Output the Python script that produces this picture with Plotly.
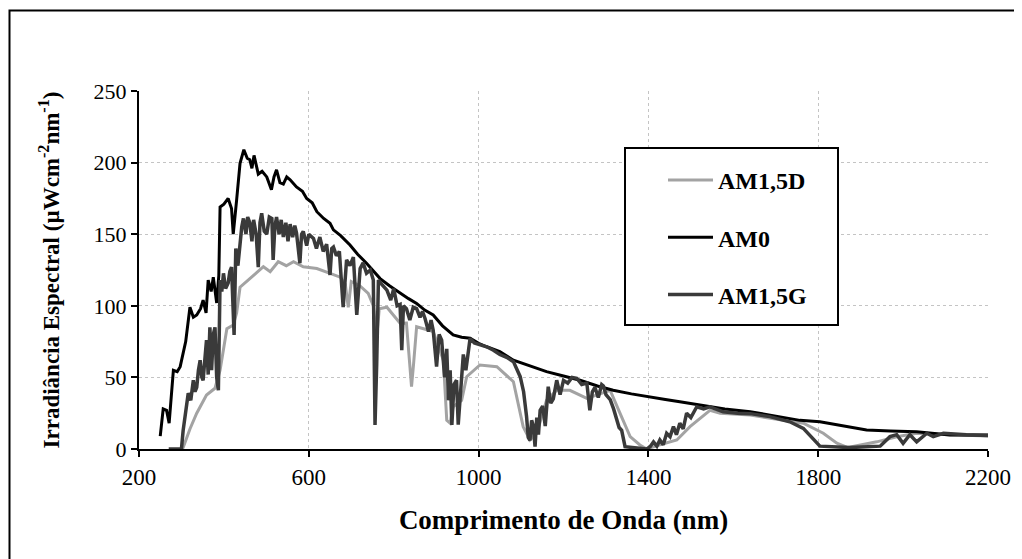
import plotly.graph_objects as go

# ---------------- data ----------------
am0_wl = [250, 257, 265, 271, 281, 290, 297, 310, 320, 328, 336, 345, 351, 358, 363, 370, 375, 383, 388, 391,
          400, 410, 418, 422, 430, 438, 447, 455, 461, 466, 471, 481, 490, 501, 512, 518, 524, 532, 540, 548,
          556, 571, 585, 595, 608, 619, 635, 650, 658, 675, 697, 715, 736, 750, 768, 790, 815, 835, 854, 873,
          893, 915, 940, 960, 980, 1000, 1019, 1050, 1082, 1120, 1160, 1200, 1239, 1280, 1317, 1360, 1396, 1440,
          1474, 1522, 1580, 1640, 1700, 1757, 1804, 1860, 1914, 1970, 2032, 2110, 2200]
am0_val = [9, 28, 27, 18, 55, 54, 57.5, 75, 99, 92, 93.6, 98, 104, 95, 118, 110, 120, 102, 121, 169,
           171, 175, 168, 150, 174, 199.5, 209, 203, 202, 196, 205, 192, 194, 190, 181, 190, 195, 186, 185, 190,
           188, 183, 180, 175, 172, 165.7, 161, 157.6, 153, 149, 142.5, 136, 129.7, 125, 119, 114, 108.7, 105, 101.7, 97,
           93.6, 86, 79.6, 78, 77.3, 73.8, 71.4, 68, 62, 58, 54, 51, 48, 44, 41, 38.5, 36.5, 34.5,
           33, 30.7, 28, 26, 23, 20, 19, 16, 13.3, 12.5, 12, 9.8, 9.8]

am15d_wl = [300, 304, 320, 336, 359, 379, 391, 400, 407, 422, 430, 438, 461, 477, 493, 509, 528, 547, 564,
            587, 619, 650, 674, 686, 693, 700, 720, 740, 752, 760, 766, 784, 815, 830, 838, 842, 847, 854,
            893, 917, 925, 933, 940, 960, 972, 1003, 1043, 1082, 1105, 1121, 1137, 1160, 1184, 1215, 1255,
            1278, 1310, 1333, 1357, 1380, 1396, 1427, 1467, 1498, 1545, 1569, 1640, 1718, 1765, 1812, 1844,
            1870, 1938, 1985, 2032, 2110, 2200]
am15d_val = [0, 1, 14, 25, 37.7, 42.4, 55, 70, 84, 86.6, 95, 113, 119, 122.7, 127.3, 123.8, 130.8, 128, 130.8,
             127.3, 126, 122.7, 120, 115, 99, 117, 114, 108.7, 100, 78, 98, 99, 87.8, 88, 60, 43.5, 60, 85.4,
             82, 62, 20, 18, 29.5, 34, 50.5, 58.7, 57.5, 47, 15.6, 6.3, 11, 34, 41, 41, 35.4,
             37.7, 41, 25, 8.6, 2.8, 0, 3, 6.3, 15.6, 27, 25, 23.7, 20, 18, 11, 4,
             1, 5, 8.6, 11, 10, 9]

am15g_wl = [270, 300, 304, 310, 316, 322, 328, 332, 336, 340, 344, 348, 351, 355, 359, 363, 367, 371, 375, 379,
            383, 387, 391, 395, 399, 404, 410, 414, 418, 424, 428, 433, 438, 442, 446, 452, 456, 461, 466, 470,
            476, 481, 485, 489, 495, 501, 507, 513, 516, 520, 524, 530, 535, 540, 546, 551, 556, 562, 567, 571,
            579, 583, 587, 595, 600, 611, 618, 626, 634, 642, 650, 654, 658, 665, 672, 681, 689, 697, 705, 713,
            721, 728, 736, 745, 752, 756, 760, 764, 772, 784, 793, 800, 808, 815, 819, 823, 830, 838, 846, 854,
            862, 868, 874, 882, 888, 893, 901, 907, 913, 920, 925, 929, 933, 937, 942, 948, 952, 958, 964, 970,
            980, 990, 1000, 1019, 1035, 1050, 1066, 1082, 1098, 1106, 1113, 1117, 1121, 1125, 1129, 1133, 1137,
            1141, 1145, 1151, 1157, 1164, 1170, 1176, 1184, 1192, 1200, 1210, 1220, 1231, 1243, 1255, 1262, 1268,
            1274, 1282, 1290, 1294, 1300, 1310, 1318, 1325, 1331, 1337, 1345, 1396, 1404, 1412, 1420, 1427, 1435,
            1443, 1451, 1459, 1466, 1474, 1482, 1490, 1500, 1514, 1530, 1545, 1576, 1610, 1640, 1686, 1733, 1765,
            1788, 1804, 1874, 1946, 1969, 1985, 2000, 2016, 2032, 2056, 2071, 2095, 2149, 2200]
am15g_val = [0, 0, 13, 25, 39, 34, 48, 40, 43, 55, 62, 50, 48, 62, 76, 52, 85, 55, 80, 85,
             50, 41, 118, 110, 122.7, 112, 116, 124, 127, 79.6, 140, 128, 146, 155, 161, 150, 162, 158, 145, 160,
             150, 127, 158, 164.6, 152, 150, 162, 161, 132, 155, 162, 150, 160, 148, 158, 145, 157, 148, 156, 151,
             129.7, 150, 152, 142, 150, 147, 140, 148, 138, 143, 121.5, 140, 141, 135, 138, 99, 132, 128, 134, 93.6,
             126, 130, 122.7, 125, 118, 16.8, 60, 118, 115, 111, 104, 112, 100, 101, 69, 100, 98, 90, 99, 98,
             92, 96, 91, 82, 90, 83, 57.5, 80, 76, 50, 70, 34, 55, 16.8, 45, 48, 17, 40, 66, 55,
             77.3, 74, 73, 71.4, 69, 66, 64, 61, 50.5, 40, 22.6, 8, 6, 20, 16, 1.6, 22,
             10, 27, 30, 16, 43.5, 32, 35, 48, 38, 48, 46, 50, 49.4, 45, 46, 27, 40,
             43, 36, 45, 44, 38, 34.5, 28, 21, 15, 13, 1.6, 0, 1.6, 5, 2, 6.3, 3,
             11, 8.6, 15.6, 10, 18, 14, 25, 22, 29.5, 28, 29.5, 26, 25, 24.7, 22.6, 19, 14.4,
             7.4, 2, 1, 2, 8.6, 10, 4, 10, 5, 11, 8.6, 11, 10, 9.4]

series_names = ["AM1,5D", "AM0", "AM1,5G"]
x_ticks = [200, 600, 1000, 1400, 1800, 2200]
y_ticks = [0, 50, 100, 150, 200, 250]

# ---------------- figure ----------------
FONT = "Times New Roman, Liberation Serif, serif"
fig = go.Figure()
fig.add_trace(go.Scatter(x=am15d_wl, y=am15d_val, mode="lines", name=series_names[0],
                         line=dict(color="#a3a3a3", width=3), legendgroup="d"))
fig.add_trace(go.Scatter(x=am0_wl, y=am0_val, mode="lines", name=series_names[1],
                         line=dict(color="#000000", width=3), legendgroup="0"))
fig.add_trace(go.Scatter(x=am15g_wl, y=am15g_val, mode="lines", name=series_names[2],
                         line=dict(color="#3a3a3a", width=3.5), legendgroup="g"))

OFF = 8  # page offset of the figure in the screenshot
L, R, T, B = 131, 42, 83, 118
W, H = 1022, 559
pw, ph = W - L - R, H - T - B

def px_x(px):  # screen px -> paper
    return (px - OFF - L) / pw

def px_y(py):
    return (H - B - (py - OFF)) / ph

fig.update_layout(
    width=W, height=H,
    margin=dict(l=L, r=R, t=T, b=B, autoexpand=False),
    paper_bgcolor="white", plot_bgcolor="white",
    font=dict(family=FONT, color="black"),
    showlegend=True,
    legend=dict(x=px_x(663), y=px_y(158), xanchor="left", yanchor="top",
                bgcolor="rgba(0,0,0,0)", borderwidth=0, itemwidth=45,
                font=dict(family=FONT, size=24, color="black", weight="bold"),
                tracegroupgap=23),
    shapes=[
        # legend box
        dict(type="rect", xref="paper", yref="paper",
             x0=px_x(625), x1=px_x(838), y0=px_y(325), y1=px_y(148),
             line=dict(color="black", width=2), fillcolor="white", layer="above"),
        # outer chart border
        dict(type="rect", xref="paper", yref="paper",
             x0=px_x(9.5), x1=px_x(1060), y0=px_y(600), y1=px_y(10.5),
             line=dict(color="black", width=2), fillcolor="rgba(0,0,0,0)", layer="above"),
    ],
)

fig.update_xaxes(
    range=[200, 2200], tickvals=x_ticks, ticktext=[str(v) for v in x_ticks],
    showline=True, linecolor="black", linewidth=2,
    ticks="outside", ticklen=6, tickcolor="black", tickwidth=1.5,
    showgrid=True, gridcolor="#c4c4c4", griddash="dot", gridwidth=1,
    zeroline=False,
    tickfont=dict(family=FONT, size=23, color="black"),
    title=dict(text="Comprimento de Onda (nm)", standoff=22,
               font=dict(family=FONT, size=27, color="black", weight="bold")),
)
fig.update_yaxes(
    range=[0, 250], tickvals=y_ticks, ticktext=[str(v) for v in y_ticks],
    showline=True, linecolor="black", linewidth=2,
    ticks="outside", ticklen=6, tickcolor="black", tickwidth=1.5,
    showgrid=True, gridcolor="#c4c4c4", griddash="dot", gridwidth=1,
    zeroline=False,
    tickfont=dict(family=FONT, size=22, color="black"),
    title=dict(text="Irradiância Espectral (µWcm<sup>-2</sup>nm<sup>-1</sup>)", standoff=28,
               font=dict(family=FONT, size=23, color="black", weight="bold")),
)

fig.write_html("out.html")
